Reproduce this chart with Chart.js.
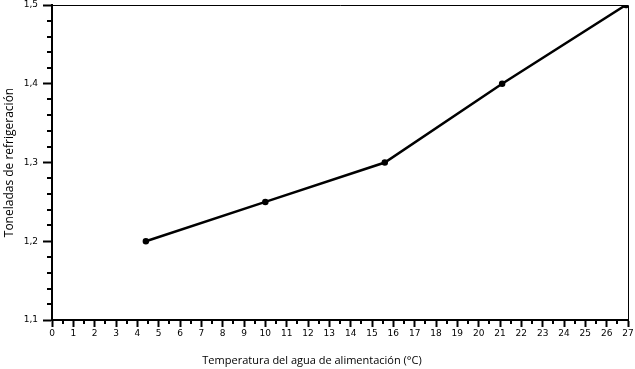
<!DOCTYPE html>
<html>
<head>
<meta charset="utf-8">
<script src="https://cdn.jsdelivr.net/npm/chart.js@4"></script>
<style>
  html, body { margin: 0; padding: 0; background: #fff; }
  #wrap { width: 635px; height: 369px; }
</style>
</head>
<body>
<div id="wrap"><canvas id="chart" width="635" height="369"></canvas></div>
<script>
// temperature of feed water (°C) vs tons of refrigeration
const tempC = [4.4, 10, 15.6, 21.1, 26.9];
const tons = [1.2, 1.25, 1.3, 1.4, 1.5];
const xRange = [0, 27];
const yRange = [1.1, 1.5];
const xTitle = 'Temperatura del agua de alimentación (°C)';
const yTitle = 'Toneladas de refrigeración';

const points = tempC.map((x, i) => ({ x, y: tons[i] }));

// short minor ticks, thin top/right frame, x title (sits left of the plot centre)
const frameAndMinor = {
  id: 'frameAndMinor',
  afterDraw(chart) {
    const { ctx, chartArea: a, scales: { x, y } } = chart;
    ctx.save();
    ctx.strokeStyle = '#000';
    ctx.lineWidth = 1;
    ctx.beginPath();
    ctx.moveTo(a.left, Math.round(a.top) + 0.5);
    ctx.lineTo(Math.round(a.right) + 0.5, Math.round(a.top) + 0.5);
    ctx.lineTo(Math.round(a.right) + 0.5, a.bottom);
    ctx.stroke();

    ctx.lineWidth = 2;
    ctx.beginPath();
    for (let v = xRange[0] + 0.5; v < xRange[1]; v += 1) {
      const px = Math.round(x.getPixelForValue(v));
      ctx.moveTo(px, a.bottom);
      ctx.lineTo(px, a.bottom + 4);
    }
    for (let k = 1; k < 20; k++) {
      if (k % 5 === 0) continue;
      const py = Math.round(y.getPixelForValue(yRange[0] + k * 0.02));
      ctx.moveTo(a.left, py);
      ctx.lineTo(a.left - 5, py);
    }
    ctx.stroke();

    ctx.fillStyle = '#000';
    ctx.font = '11px "Open Sans"';
    ctx.textAlign = 'center';
    ctx.textBaseline = 'alphabetic';
    ctx.fillText(xTitle, 312, 364);
    ctx.restore();
  }
};

new Chart(document.getElementById('chart').getContext('2d'), {
  type: 'scatter',
  data: {
    datasets: [{
      data: points,
      showLine: true,
      borderColor: '#000',
      backgroundColor: '#000',
      borderWidth: 2.5,
      pointRadius: 2,
      pointHoverRadius: 2
    }]
  },
  options: {
    responsive: false,
    animation: false,
    events: [],
    layout: { padding: { top: 5, right: 7, left: 0, bottom: 0 } },
    plugins: { legend: { display: false }, tooltip: { enabled: false } },
    scales: {
      x: {
        type: 'linear',
        min: xRange[0],
        max: xRange[1],
        afterFit: s => { s.height = 49; s.paddingLeft = 0; s.paddingRight = 0; },
        border: { color: '#000', width: 2 },
        grid: { drawOnChartArea: false, drawTicks: true, tickLength: 7, tickColor: '#000', tickWidth: 2 },
        ticks: {
          stepSize: 1, autoSkip: false, maxRotation: 0, padding: 1, color: '#000',
          font: { family: 'DejaVu Sans', size: 9 }
        }
      },
      y: {
        type: 'linear',
        min: yRange[0],
        max: yRange[1],
        afterFit: s => { s.width = 52; s.paddingTop = 0; s.paddingBottom = 0; },
        border: { color: '#000', width: 2 },
        grid: { drawOnChartArea: false, drawTicks: true, tickLength: 9, tickColor: '#000', tickWidth: 2 },
        ticks: {
          stepSize: 0.1, padding: 5, color: '#000',
          font: { family: 'DejaVu Sans', size: 9 },
          callback: v => v.toFixed(1).replace('.', ',')
        },
        title: {
          display: true,
          text: yTitle,
          color: '#000',
          font: { family: 'Open Sans', size: 12 },
          padding: { top: 2, bottom: 0 }
        }
      }
    }
  },
  plugins: [frameAndMinor]
});
</script>
</body>
</html>
